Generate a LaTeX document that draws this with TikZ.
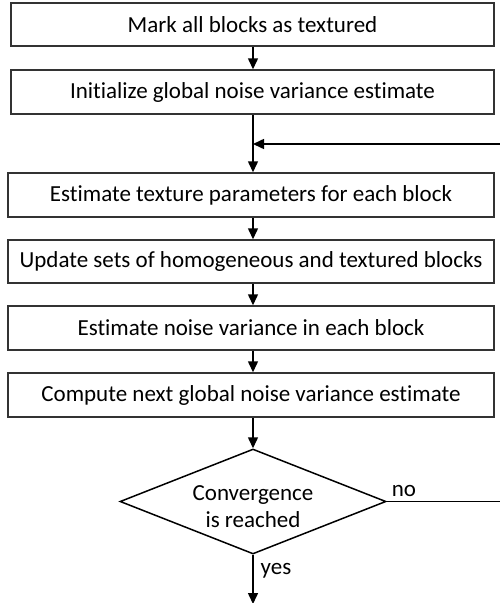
\documentclass[tikz,border=0pt]{standalone}
\usepackage{fontspec}
\setmainfont{Carlito}[Ligatures=NoCommon]
\usetikzlibrary{shapes.geometric,arrows.meta}
\begin{document}
\begin{tikzpicture}[x=1pt,y=-1pt,
  every node/.style={font=\fontsize{23}{27}\selectfont},
  stepbox/.style={draw=black!80,line width=1.5pt,inner sep=0pt,anchor=center},
  conn/.style={line width=1.5pt,-{Triangle[length=11pt,width=10pt]}},
  plain/.style={line width=1.5pt}]
\useasboundingbox (0,0) rectangle (500,603);
\node[stepbox,minimum width=483pt,minimum height=43pt] (b1) at (252.5,24.5) {Mark all blocks as textured};
\node[stepbox,minimum width=483pt,minimum height=44pt] (b2) at (252.5,92) {Initialize global noise variance estimate};
\node[stepbox,minimum width=486pt,minimum height=44pt] (b3) at (251,195) {Estimate texture parameters for each block};
\node[stepbox,minimum width=486pt,minimum height=43pt] (b4) at (251,261.5) {Update sets of homogeneous and textured blocks};
\node[stepbox,minimum width=486pt,minimum height=44pt] (b5) at (251,328) {Estimate noise variance in each block};
\node[stepbox,minimum width=486pt,minimum height=44pt] (b6) at (251,395) {Compute next global noise variance estimate};
\node[diamond,draw=black,line width=1.5pt,minimum width=266pt,minimum height=105pt,inner sep=0pt,
  align=center] (d) at (253,501.5) {};
\node[align=center] (dt) at (253,507) {Convergence\\is reached};
\coordinate (loopin) at (503,144);
\coordinate (loopout) at (503,501.5);
\coordinate (join) at (253,144);
\coordinate (endp) at (253,604);
\draw[conn] (b1.south -| 253,0) -- (b2.north -| 253,0);
\draw[conn] (b2.south -| 253,0) -- (b3.north -| 253,0);
\draw[conn] (loopin) -- (join);
\draw[conn] (b3.south -| 253,0) -- (b4.north -| 253,0);
\draw[conn] (b4.south -| 253,0) -- (b5.north -| 253,0);
\draw[conn] (b5.south -| 253,0) -- (b6.north -| 253,0);
\draw[conn] (b6.south -| 253,0) -- (d.north);
\draw[conn] (d.south) -- (endp);
\draw[plain] (d.east) -- (loopout);
\node[anchor=center] (no) at (404,491) {no};
\node[anchor=center] (yes) at (276,571) {yes};
\end{tikzpicture}
\end{document}
